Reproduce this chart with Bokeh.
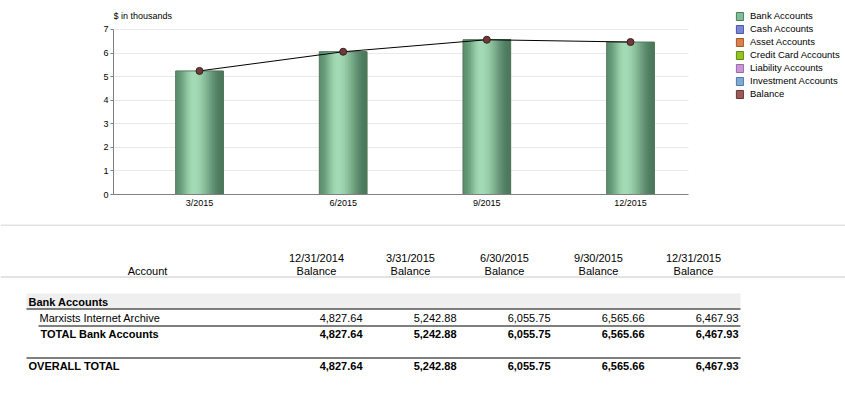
import math
from bokeh.plotting import figure
from bokeh.models import Range1d, FixedTicker, Legend, LegendItem, ColumnDataSource, Label, BoxAnnotation
from bokeh.embed import file_html
from bokeh.resources import INLINE
from bokeh.core.properties import value

# ---------------- data ----------------
periods = ["3/2015", "6/2015", "9/2015", "12/2015"]
bank_accounts = [5.24288, 6.05575, 6.56566, 6.46793]   # $ in thousands
balance = [5.24288, 6.05575, 6.56566, 6.46793]          # $ in thousands
y_ticks = [0, 1, 2, 3, 4, 5, 6, 7]
y_axis_title = "$ in thousands"

legend_names = ["Bank Accounts", "Cash Accounts", "Asset Accounts", "Credit Card Accounts",
                "Liability Accounts", "Investment Accounts", "Balance"]
legend_colors = ["#7fbf96", "#7b86d6", "#d9814a", "#94c21e", "#c898d6", "#7eaad6", "#9a5a5a"]
legend_edges = ["#4e7c5e", "#4a55a8", "#a8552a", "#5f8a10", "#9a68a8", "#4f7aa8", "#6a3636"]

col_headers = ["12/31/2014", "3/31/2015", "6/30/2015", "9/30/2015", "12/31/2015"]
col_sub = ["Balance"] * 5
group_name = "Bank Accounts"
account_name = "Marxists Internet Archive"
account_values = [4827.64, 5242.88, 6055.75, 6565.66, 6467.93]
total_label = "TOTAL Bank Accounts"
total_values = [4827.64, 5242.88, 6055.75, 6565.66, 6467.93]
overall_label = "OVERALL TOTAL"
overall_values = [4827.64, 5242.88, 6055.75, 6565.66, 6467.93]

FONT = "Liberation Sans"

# ---------------- chart ----------------
idx = list(range(len(periods)))
X0, X1 = -0.5986, 3.4037          # visible plot-area extent along x
p = figure(width=845, height=224, x_range=Range1d(X0, 4.4965), y_range=Range1d(0, 8.2303),
           output_backend="svg", toolbar_location=None,
           min_border_left=113, min_border_right=0, min_border_top=0, min_border_bottom=30)
p.outline_line_color = None
p.background_fill_color = "white"
p.border_fill_color = "white"

p.xgrid.visible = False
p.ygrid.ticker = FixedTicker(ticks=y_ticks)
p.ygrid.grid_line_color = "#e9e9e9"
# keep the plot area clean to the right of the chart (legend region)
p.add_layout(BoxAnnotation(left=X1, fill_color="white", fill_alpha=1, line_color=None,
                           level="underlay"))

p.yaxis.ticker = FixedTicker(ticks=y_ticks)
p.yaxis.bounds = (0, 7)
p.yaxis.axis_line_color = "#808080"
p.yaxis.major_tick_line_color = "#808080"
p.yaxis.major_tick_out = 3
p.yaxis.major_tick_in = 0
p.yaxis.minor_tick_line_color = None
p.yaxis.major_label_text_font = FONT
p.yaxis.major_label_text_font_size = "9px"
p.yaxis.major_label_text_color = "black"
p.yaxis.major_label_standoff = 2

p.xaxis.ticker = FixedTicker(ticks=idx)
p.xaxis.bounds = (X0, X1)
p.xaxis.major_label_overrides = {i: lab for i, lab in zip(idx, periods)}
p.xaxis.axis_line_color = "#808080"
p.xaxis.major_tick_line_color = None
p.xaxis.major_tick_out = 0
p.xaxis.major_tick_in = 0
p.xaxis.minor_tick_line_color = None
p.xaxis.minor_tick_out = 0
p.xaxis.major_label_text_font = FONT
p.xaxis.major_label_text_font_size = "9px"
p.xaxis.major_label_text_color = "black"
p.xaxis.major_label_standoff = 3

# gradient (cylinder-like) bars built from layered quads
BW = 0.332
N = 30
c0 = (92, 144, 110)
c1 = (164, 218, 181)
c2 = (74, 120, 91)


def shade(t):
    if t <= 0.38:
        f = 0.5 - 0.5 * math.cos(math.pi * t / 0.38)
        c = [a + (b - a) * f for a, b in zip(c0, c1)]
    else:
        f = 0.5 - 0.5 * math.cos(math.pi * (t - 0.38) / 0.62)
        c = [a + (b - a) * f for a, b in zip(c1, c2)]
    return "#%02x%02x%02x" % tuple(int(round(v)) for v in c)


ql, qr, qt, qc = [], [], [], []
for k in range(N):
    tt = (k + 0.5) / N
    for i, v in zip(idx, bank_accounts):
        ql.append(i - BW / 2 + k * BW / N)
        qr.append(i + BW / 2)
        qt.append(v)
        qc.append(shade(tt))
p.quad(left="l", right="r", top="t", bottom=0, fill_color="c", line_color=None,
       source=ColumnDataSource(dict(l=ql, r=qr, t=qt, c=qc)))
p.vbar(x=idx, top=bank_accounts, bottom=0, width=BW, fill_color=None,
       line_color="#56775f", line_width=1)

p.line(x=idx, y=balance, line_color="black", line_width=1)
p.scatter(x=idx, y=balance, size=7, fill_color="#6e3a3a", line_color="#3c1e1e", line_width=1)

p.add_layout(Label(x=0, y=179, x_units="screen", y_units="screen", text=y_axis_title,
                   text_font=FONT, text_font_size="9px", text_baseline="middle",
                   text_color="black"))

# legend (inside the wide plot area, right of the chart)
items = []
for name, col, edge in zip(legend_names, legend_colors, legend_edges):
    r = p.vbar(x=[100], top=[1], width=0.1, fill_color=col, line_color=edge)
    items.append(LegendItem(label=name, renderers=[r]))
legend = Legend(items=items, location=(622, 95), orientation="vertical",
                border_line_color=None, background_fill_alpha=0, padding=0, margin=0,
                spacing=2, glyph_width=9, glyph_height=10, label_height=10, label_standoff=6,
                label_text_font=FONT, label_text_font_size="9.5px", label_text_color="black")
p.add_layout(legend, "center")

# ---------------- table ----------------
t = figure(width=845, height=169, x_range=Range1d(0, 845), y_range=Range1d(393, 224),
           output_backend="svg", toolbar_location=None, min_border=0,
           x_axis_location=None, y_axis_location=None)
t.grid.visible = False
t.outline_line_color = None
t.border_fill_color = "white"

hdr_x = [316, 410, 504, 598, 693]
val_x = [362, 456, 550, 644, 738]

t.segment(x0=[0, 0], y0=[224.5, 276.5], x1=[845, 845], y1=[224.5, 276.5],
          line_color="#c6c6c6", line_width=1)
t.quad(left=[26], right=[740], top=[293], bottom=[308], fill_color="#efefef", line_color=None)
t.segment(x0=[26, 38, 26], y0=[308.5, 325.5, 357.5], x1=[740, 740, 740], y1=[308.5, 325.5, 357.5],
          line_color="black", line_width=1)

t.text(x=[147], y=[270], text=["Account"], text_font=value(FONT), text_font_size="11px",
       text_align="center", text_baseline="middle", text_color="black")
t.text(x=hdr_x, y=[257] * 5, text=col_headers, text_font=value(FONT), text_font_size="11px",
       text_align="center", text_baseline="middle", text_color="black")
t.text(x=hdr_x, y=[270] * 5, text=col_sub, text_font=value(FONT), text_font_size="11px",
       text_align="center", text_baseline="middle", text_color="black")

t.text(x=[28], y=[301], text=[group_name], text_font=value(FONT), text_font_size="11px",
       text_font_style="bold", text_align="left", text_baseline="middle", text_color="black")
t.text(x=[39], y=[317], text=[account_name], text_font=value(FONT), text_font_size="11px",
       text_align="left", text_baseline="middle", text_color="black")
t.text(x=val_x, y=[317] * 5, text=[f"{v:,.2f}" for v in account_values], text_font=value(FONT),
       text_font_size="11px", text_align="right", text_baseline="middle", text_color="black")
t.text(x=[40], y=[333], text=[total_label], text_font=value(FONT), text_font_size="11px",
       text_font_style="bold", text_align="left", text_baseline="middle", text_color="black")
t.text(x=val_x, y=[333] * 5, text=[f"{v:,.2f}" for v in total_values], text_font=value(FONT),
       text_font_size="11px", text_font_style="bold", text_align="right", text_baseline="middle",
       text_color="black")
t.text(x=[28], y=[365], text=[overall_label], text_font=value(FONT), text_font_size="11px",
       text_font_style="bold", text_align="left", text_baseline="middle", text_color="black")
t.text(x=val_x, y=[365] * 5, text=[f"{v:,.2f}" for v in overall_values], text_font=value(FONT),
       text_font_size="11px", text_font_style="bold", text_align="right", text_baseline="middle",
       text_color="black")

open("out.html", "w").write(file_html([p, t], INLINE))
